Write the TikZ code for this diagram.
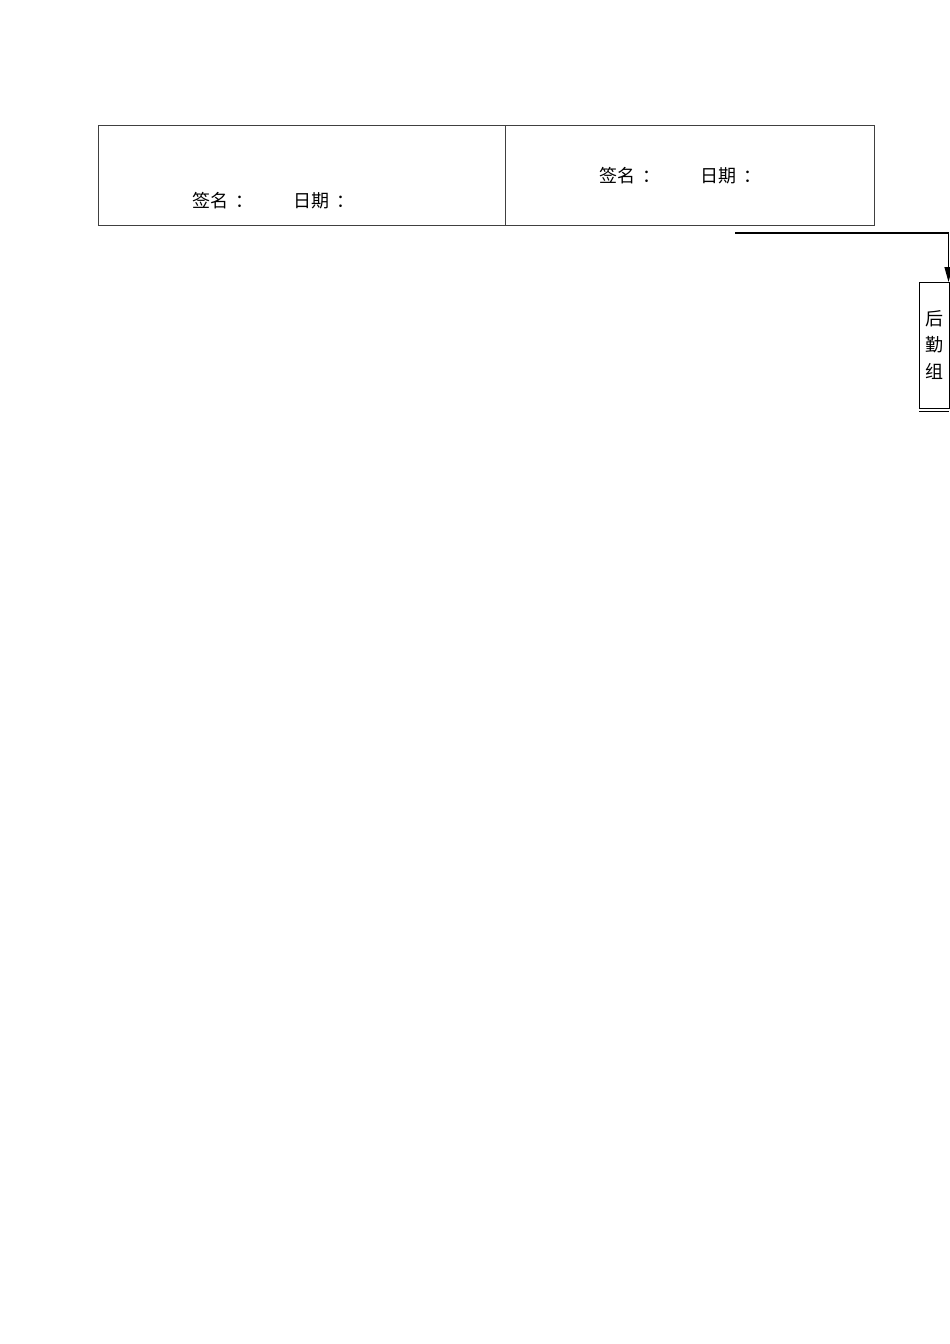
\documentclass[tikz,border=0pt]{standalone}
\usepackage{fontspec}
\newfontfamily\cjk{Noto Sans CJK SC}
\usetikzlibrary{arrows.meta}
\newcommand{\cjkcolon}{\kern7pt：}
\begin{document}
\begin{tikzpicture}[x=1pt,y=-1pt,
  cell/.style={draw=black!75,line width=0.8pt},
  lbl/.style={font=\cjk\fontsize{18}{20}\selectfont,inner sep=0pt,anchor=base west},
  vlabel/.style={font=\cjk\fontsize{18}{26.5}\selectfont,align=center,inner sep=0pt},
  conn/.style={draw=black,line width=1.1pt,-{Triangle[length=15pt,width=8pt]}}]
\useasboundingbox (0,0) rectangle (950,1344);
\draw[cell] (98,125) rectangle (505,225);
\draw[cell] (505,125) rectangle (874,225);
\node[lbl] (s1) at (192,207) {签名\cjkcolon};
\node[lbl] (d1) at (293,207) {日期\cjkcolon};
\node[lbl] (s2) at (599,182) {签名\cjkcolon};
\node[lbl] (d2) at (700,182) {日期\cjkcolon};
\node[draw,line width=0.9pt,minimum width=30pt,minimum height=126pt,anchor=north west,inner sep=0pt] (box) at (919,282) {};
\draw[line width=0.9pt] (919,411) -- (949,411);
\node[vlabel] (t) at (934,345) {后\\勤\\组};
\coordinate (start) at (735,233);
\coordinate (corner) at (948.5,233);
\draw[conn] (start) -- (corner) -- (948.5,282);
\end{tikzpicture}
\end{document}
